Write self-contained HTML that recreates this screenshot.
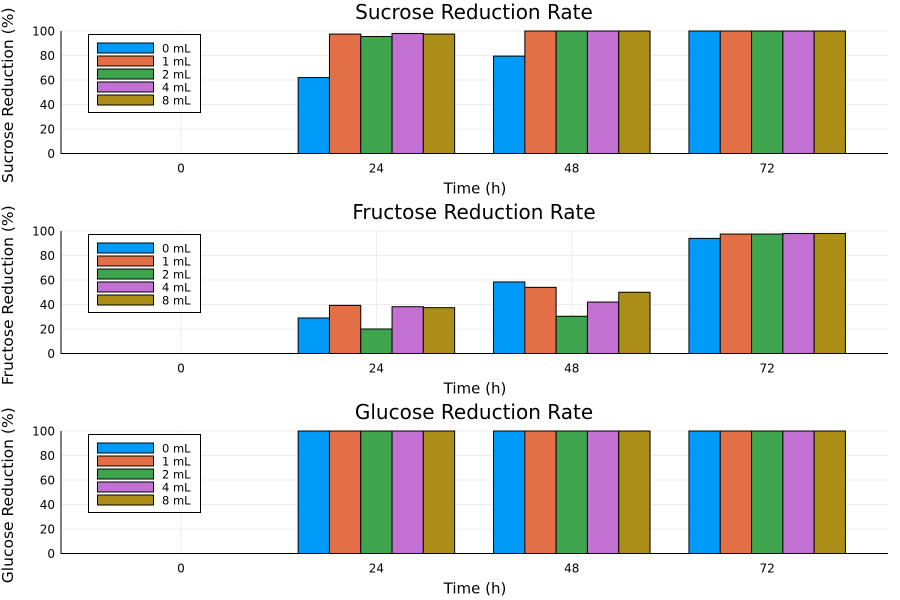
<!DOCTYPE html>
<html><head><meta charset="utf-8"><style>
body{margin:0;background:#fff;}
svg{display:block;font-family:"DejaVu Sans","Liberation Sans",sans-serif;}
</style></head><body>
<svg id="c" width="900" height="600" viewBox="0 0 900 600"></svg>
<script>
const categories = ["0","24","48","72"];
const seriesNames = ["0 mL","1 mL","2 mL","4 mL","8 mL"];
const colors = ["#009af9","#e26f46","#3ea44e","#c271d2","#ac8e18"];
const yTicks = [0,20,40,60,80,100];
const sucrose = [[0,62,79.5,100],[0,97.5,100,100],[0,95.5,100,100],[0,98,100,100],[0,97.5,100,100]];
const fructose = [[0,29,58.4,94],[0,39.3,54,97.5],[0,20,30.4,97.5],[0,38.2,42,98],[0,37.4,50,98]];
const glucose = [[0,100,100,100],[0,100,100,100],[0,100,100,100],[0,100,100,100],[0,100,100,100]];
const titles = ["Sucrose Reduction Rate","Fructose Reduction Rate","Glucose Reduction Rate"];
const ytitles = ["Sucrose Reduction (%)","Fructose Reduction (%)","Glucose Reduction (%)"];
const panels = [sucrose, fructose, glucose];
const tops = [31, 231, 431];

const svg = document.getElementById('c');
const NS = "http://www.w3.org/2000/svg";
function mk(tag, attrs, parent){const e=document.createElementNS(NS,tag);for(const k in attrs)e.setAttribute(k,attrs[k]);(parent||svg).appendChild(e);return e;}
const left=61, right=888;
function xPos(i){return 181 + 195.4*i;}
const groupW = 156.5, barW = groupW/5;

panels.forEach((data,p)=>{
  const top=tops[p], bottom=top+122.5;
  const y=v=>bottom-(v/100)*(bottom-top);
  const g=mk('g',{});
  
  
  yTicks.forEach(t=>{
    const l=mk('line',{x1:left,x2:right,y1:y(t),y2:y(t),stroke:'#ececec','stroke-width':1},g);
    
    
    const tx=mk('text',{x:left-6,y:y(t)+4.5,'text-anchor':'end','font-size':12,fill:'#000'},g);
    tx.textContent=t;
    
    
  });
  categories.forEach((c,i)=>{
    const l=mk('line',{x1:xPos(i),x2:xPos(i),y1:top,y2:bottom,stroke:'#ececec','stroke-width':1},g);
    
    
    const tx=mk('text',{x:xPos(i),y:bottom+19,'text-anchor':'middle','font-size':12},g);
    tx.textContent=c;
    
    
  });
  data.forEach((vals,s)=>{
    vals.forEach((v,i)=>{
      const x0=xPos(i)-groupW/2+s*barW;
      const r=mk('rect',{x:x0,y:y(v),width:barW,height:Math.max(0,bottom-y(v)),fill:colors[s],stroke:'#000','stroke-width':1},g);
      
      
    });
  });
  const ax=mk('path',{d:`M${left} ${top} V${bottom} H${right}`,fill:'none',stroke:'#000','stroke-width':1},g);
  
  
  const tt=mk('text',{x:474,y:top-12,'text-anchor':'middle','font-size':20},g);
  tt.textContent=titles[p];
  
  
  const xt=mk('text',{x:475,y:bottom+40,'text-anchor':'middle','font-size':15},g);
  xt.textContent="Time (h)";
  
  
  const yt=mk('text',{x:0,y:0,'text-anchor':'middle','font-size':15.5,transform:`translate(13 ${(top+bottom)/2 + 3}) rotate(-90)`},g);
  yt.textContent=ytitles[p];
  
  
  const lg=mk('g',{},g);
  
  
  mk('rect',{x:88.5,y:top+3.5,width:112,height:78,fill:'#fff',stroke:'#000','stroke-width':1},lg);
  seriesNames.forEach((n,s)=>{
    const yy=top+12+s*13;
    const sw=mk('rect',{x:97.5,y:yy,width:56,height:10,fill:colors[s],stroke:'#000','stroke-width':1},lg);
    
    
    const lt=mk('text',{x:162,y:yy+9.5,'font-size':11.5},lg);
    lt.textContent=n;
    
    
  });
});
</script>
</body></html>
